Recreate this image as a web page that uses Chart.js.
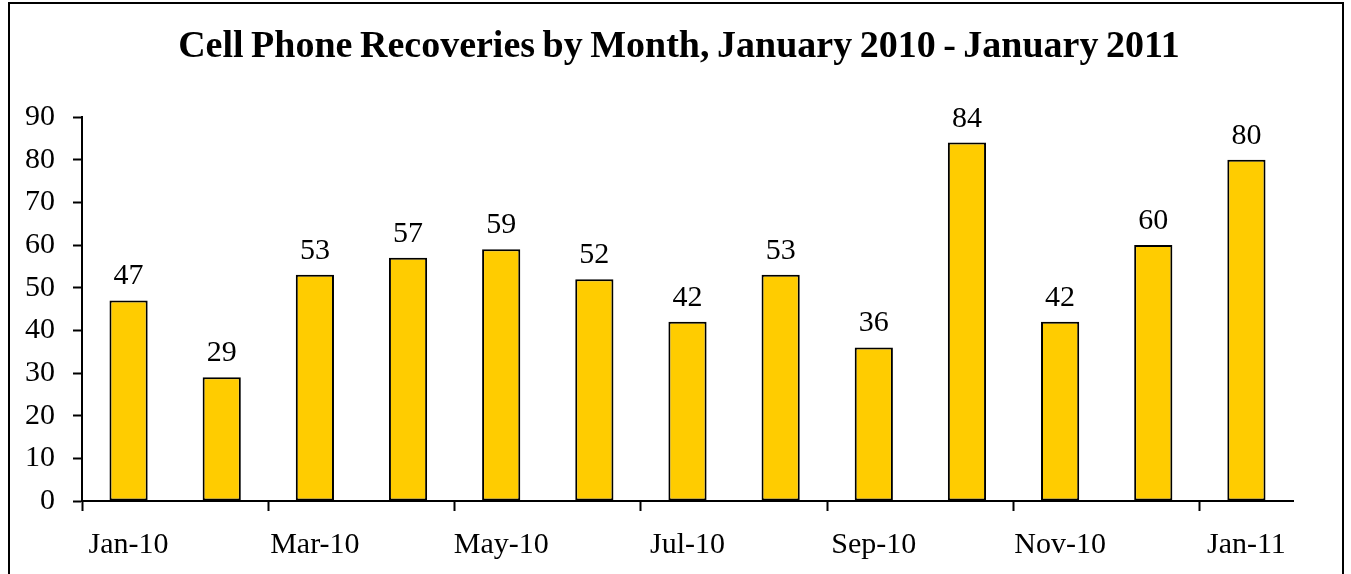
<!DOCTYPE html>
<html>
<head>
<meta charset="utf-8">
<script src="https://cdn.jsdelivr.net/npm/chart.js@4"></script>
<style>
  html, body { margin: 0; padding: 0; background: #fff; }
  #wrap { width: 1351px; height: 574px; }
</style>
</head>
<body>
<div id="wrap"><canvas id="c" width="1351" height="574"></canvas></div>
<script>
const months = ['Jan-10', 'Feb-10', 'Mar-10', 'Apr-10', 'May-10', 'Jun-10', 'Jul-10',
                'Aug-10', 'Sep-10', 'Oct-10', 'Nov-10', 'Dec-10', 'Jan-11'];
const recoveries = [47, 29, 53, 57, 59, 52, 42, 53, 36, 84, 42, 60, 80];
const yTicks = [0, 10, 20, 30, 40, 50, 60, 70, 80, 90];
const chartTitle = 'Cell Phone Recoveries by Month, January 2010 - January 2011';

const serif = '"Liberation Serif", "Times New Roman", serif';

// frame + title
const framePlugin = {
    id: 'frame',
    beforeDraw(chart) {
        const ctx = chart.ctx;
        ctx.save();
        ctx.fillStyle = '#fff';
        ctx.fillRect(0, 0, chart.width, chart.height);
        ctx.strokeStyle = '#000';
        ctx.lineWidth = 2;
        ctx.strokeRect(9, 3, 1334, 620);
        ctx.fillStyle = '#000';
        ctx.font = 'bold 38px ' + serif;
        ctx.textAlign = 'center';
        ctx.textBaseline = 'alphabetic';
        if ('wordSpacing' in ctx) ctx.wordSpacing = '-2px';
        ctx.fillText(chartTitle, 679, 57);
        ctx.restore();
    }
};

// value labels above bars
const valuePlugin = {
    id: 'values',
    afterDatasetsDraw(chart) {
        const ctx = chart.ctx;
        const meta = chart.getDatasetMeta(0);
        ctx.save();
        ctx.fillStyle = '#000';
        ctx.font = '30px ' + serif;
        ctx.textAlign = 'center';
        ctx.textBaseline = 'alphabetic';
        meta.data.forEach((bar, i) => {
            ctx.fillText(String(recoveries[i]), bar.x, bar.y - 16);
        });
        ctx.restore();
    }
};

new Chart(document.getElementById('c'), {
    type: 'bar',
    data: {
        labels: months,
        datasets: [{
            data: recoveries,
            backgroundColor: '#FFCC00',
            borderColor: '#000',
            borderWidth: 2,
            borderSkipped: false,
            categoryPercentage: 1,
            barPercentage: 0.41
        }]
    },
    options: {
        responsive: false,
        animation: false,
        devicePixelRatio: 1,
        layout: { padding: { top: 117, right: 58, left: 0, bottom: 0 } },
        plugins: { legend: { display: false }, title: { display: false }, tooltip: { enabled: false } },
        scales: {
            x: {
                offset: true,
                grid: {
                    offset: true,
                    drawOnChartArea: false,
                    drawTicks: true,
                    tickLength: 10,
                    tickWidth: 2,
                    color: ctx => (ctx.index % 2 === 0 ? '#000' : 'rgba(0,0,0,0)')
                },
                border: { display: true, color: '#000', width: 2 },
                ticks: {
                    autoSkip: false,
                    maxRotation: 0,
                    color: '#000',
                    font: { family: serif, size: 30 },
                    padding: 16,
                    callback: (v, i) => (i % 2 === 0 ? months[i] : '')
                },
                afterFit: s => { s.height = 73; }
            },
            y: {
                min: 0,
                max: 90,
                afterBuildTicks: s => { s.ticks = yTicks.map(v => ({ value: v })); },
                grid: {
                    drawOnChartArea: false,
                    drawTicks: true,
                    tickLength: 9,
                    tickWidth: 2,
                    color: '#000'
                },
                border: { display: true, color: '#000', width: 2 },
                ticks: {
                    color: '#000',
                    font: { family: serif, size: 30 },
                    padding: 18
                },
                afterFit: s => { s.width = 82; }
            }
        }
    },
    plugins: [framePlugin, valuePlugin]
});
</script>
</body>
</html>
